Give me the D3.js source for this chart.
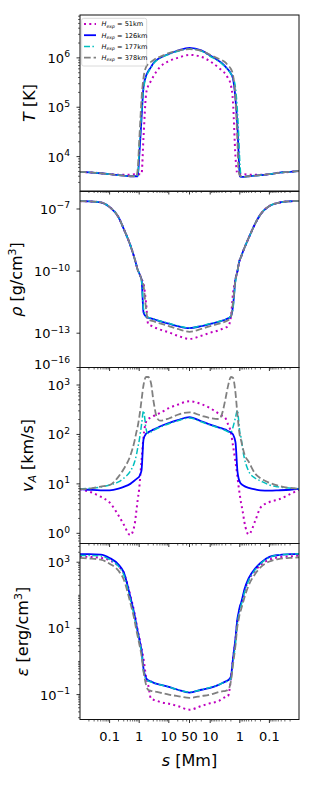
<!DOCTYPE html>
<html><head><meta charset="utf-8">
<script src="https://cdn.jsdelivr.net/npm/d3@7"></script>
<style>body{margin:0;background:#fff}text{font-family:"DejaVu Sans",sans-serif}</style>
</head><body>
<svg id="c" width="333" height="800"></svg>
<script>
// distance s [Mm] from each footpoint: left half toward the apex, right half back to the other footpoint
const sLeft  = [0.01,0.02,0.05,0.1,0.2,0.3,0.5,0.7,0.8,0.9,1.0,1.1,1.2,1.4,1.7,2,2.5,3,4,5,10,20,50];
const sRight = [20,10,5,4,3,2.5,2,1.7,1.4,1.2,1.1,1.0,0.9,0.8,0.7,0.5,0.3,0.2,0.1,0.05,0.02,0.01];
const seriesNames = ["51km","126km","177km","378km"];

// Temperature [K]
const T_51  = [4900,4800,4600,4400,4300,4300,4300,4400,4400,4400,4400,4400,4500,2.5e4,1.8e5,2.7e5,3.4e5,4.2e5,5.5e5,6.5e5,8.6e5,1.0e6,1.15e6,
               1.05e6,8.5e5,6.2e5,5.5e5,4.7e5,3.9e5,2.8e5,1.3e5,1e4,4500,4500,4500,4500,4400,4400,4300,4300,4300,4400,4700,4900,5100];
const T_126 = [4900,4800,4600,4400,4200,4100,4000,4000,4000,4000,1e4,2.5e4,6e4,2.6e5,4.3e5,5.3e5,6.5e5,7.8e5,9.2e5,1.0e6,1.2e6,1.4e6,1.6e6,
               1.42e6,1.12e6,8.6e5,7.8e5,6.6e5,5.8e5,4.8e5,3.8e5,1.5e5,4e4,1.2e4,4000,3900,3900,3900,4000,4100,4200,4400,4700,4900,5100];
const T_177 = [4900,4800,4600,4400,4200,4100,4000,4000,4000,4100,1.5e4,3.5e4,8e4,2.3e5,4.1e5,5.1e5,6.3e5,7.6e5,9e5,9.8e5,1.18e6,1.36e6,1.52e6,
               1.38e6,1.08e6,8.4e5,7.6e5,6.5e5,5.7e5,4.8e5,4e5,2.5e5,8e4,3e4,8000,3900,3900,3900,4000,4100,4200,4400,4700,4900,5100];
const T_378 = [4900,4800,4600,4400,4200,4100,4000,4000,4000,6000,2e4,6e4,1.5e5,4e5,6.5e5,7.5e5,8.3e5,9e5,1e6,1.05e6,1.25e6,1.4e6,1.5e6,
               1.4e6,1.15e6,9.5e5,9e5,8e5,7e5,6e5,4.5e5,1.5e5,2e4,5000,4200,4000,3900,3900,4000,4100,4200,4400,4700,4900,5100];

// Density [g/cm^3]
const rho_51  = [2.4e-7,2.35e-7,2.1e-7,1.25e-7,4e-8,1.1e-8,1.8e-9,4e-10,2e-10,1.1e-10,8e-11,5.6e-11,4e-11,2.5e-11,3e-12,2.8e-13,2.3e-13,2e-13,1.7e-13,1.5e-13,1.1e-13,7.5e-14,5.3e-14,
                 7.5e-14,1.05e-13,1.4e-13,1.6e-13,1.9e-13,2.1e-13,6e-13,8e-12,4e-11,1e-10,2e-10,3.5e-10,5e-10,8e-10,1.3e-9,4e-9,2e-8,5.5e-8,1.4e-7,2e-7,2.35e-7,2.45e-7];
const rho_126 = [2.4e-7,2.35e-7,2.1e-7,1.25e-7,4e-8,1.1e-8,1.8e-9,4e-10,2e-10,1.1e-10,8e-11,5.6e-11,4e-11,1e-12,6.3e-13,5.6e-13,5.2e-13,4.8e-13,4.2e-13,3.8e-13,2.9e-13,2.2e-13,1.75e-13,
                 2.2e-13,2.8e-13,3.6e-13,4e-13,4.6e-13,5.2e-13,6.5e-13,2e-12,4e-11,1e-10,2e-10,3.5e-10,5e-10,8e-10,1.3e-9,4e-9,2e-8,5.5e-8,1.4e-7,2e-7,2.35e-7,2.45e-7];
const rho_177 = [2.4e-7,2.35e-7,2.1e-7,1.25e-7,4e-8,1.1e-8,1.8e-9,4e-10,2e-10,1.1e-10,8e-11,5.6e-11,3.5e-11,1.5e-12,6.5e-13,5.8e-13,5.3e-13,4.9e-13,4.3e-13,3.9e-13,3e-13,2.3e-13,1.8e-13,
                 2.3e-13,2.9e-13,3.7e-13,4.1e-13,4.7e-13,5.3e-13,6.8e-13,1.5e-12,3e-11,1e-10,2e-10,3.5e-10,5e-10,8e-10,1.3e-9,4e-9,2e-8,5.5e-8,1.4e-7,2e-7,2.35e-7,2.45e-7];
const rho_378 = [2.4e-7,2.35e-7,2.1e-7,1.25e-7,4e-8,1.1e-8,1.8e-9,4e-10,2e-10,1.1e-10,8e-11,5.6e-11,4e-11,2e-11,1.5e-12,4.4e-13,4.1e-13,3.8e-13,3.3e-13,3e-13,2.2e-13,1.6e-13,1.17e-13,
                 1.6e-13,2.2e-13,2.9e-13,3.2e-13,3.7e-13,4.2e-13,6e-13,3e-12,4e-11,1e-10,2e-10,3.5e-10,5e-10,8e-10,1.3e-9,4e-9,2e-8,5.5e-8,1.4e-7,2e-7,2.35e-7,2.45e-7];

// Alfven speed [km/s]
const vA_51  = [7.8,7,5.5,4.2,2.3,1.5,0.92,1.5,2.8,5,8,16,30,90,180,205,220,235,255,270,340,400,470,
                410,340,260,240,210,160,110,60,28,14,9,6,4,2.8,1.7,0.95,1.8,3.3,4.3,4.8,6.2,7.6];
const vA_126 = [7.8,7.6,7.4,7.4,8,8.7,10,11.7,12.5,13.2,14,16,19,80,103,110,118,125,135,145,170,195,225,
                185,158,138,132,125,117,110,100,70,18,13,11,10,9.5,9,8.3,7.7,7.4,7.3,7.4,7.6,7.9];
const vA_177 = [7.9,8.1,8.6,9.5,11,13,18,28,38,55,75,110,160,300,130,105,112,120,132,140,165,190,215,
                180,155,135,128,120,113,110,140,220,310,200,110,85,50,33,18,13,11.5,9.5,8.7,8.2,8];
const vA_378 = [7.8,8,8.8,9.5,14,20,37,75,110,150,220,330,500,1000,1450,1450,1100,500,216,190,210,250,280,
                240,215,205,260,550,950,1450,1400,700,250,150,95,75,55,40,28,16,13,10.5,9.2,8.3,8];

// Energy density [erg/cm^3]
const eps_51  = [1500,1450,1350,1150,750,480,100,28,15,8.5,5.5,3.5,2.5,1.2,0.35,0.2,0.075,0.07,0.065,0.06,0.053,0.045,0.035,
                 0.045,0.055,0.065,0.075,0.085,0.09,0.3,1.2,4.5,17,27,40,55,80,130,290,560,820,1200,1400,1500,1600];
const eps_126 = [1750,1750,1700,1350,850,500,90,25,13,7.5,5,3.2,2.2,0.6,0.32,0.27,0.25,0.23,0.21,0.2,0.17,0.14,0.115,
                 0.14,0.16,0.2,0.22,0.25,0.27,0.35,1.2,5,20,30,45,60,90,150,330,650,950,1450,1650,1750,1800];
const eps_177 = [1600,1600,1550,1200,750,420,75,21,11,6.5,4.2,2.8,1.9,0.5,0.3,0.26,0.24,0.23,0.21,0.2,0.17,0.14,0.12,
                 0.14,0.165,0.2,0.22,0.24,0.26,0.3,0.9,3.5,15,24,36,50,75,120,280,600,900,1400,1650,1750,1800];
const eps_378 = [1350,1300,1200,900,550,300,60,17,9,5.5,3.5,2.3,1.5,0.5,0.2,0.14,0.13,0.125,0.12,0.115,0.1,0.09,0.08,
                 0.09,0.1,0.12,0.125,0.13,0.14,0.25,0.8,3,12,18,28,38,55,85,200,450,700,1050,1250,1350,1400];

// x tick labels
const xTicksLeft  = [0.1,1,10,50];
const xTicksRight = [10,1,0.1];

const styles = [
  {color:"#bf00bf", width:2,   dash:"2,3.3"},
  {color:"#0000ff", width:1.8, dash:null},
  {color:"#00bfbf", width:1.5, dash:"6,2.4,1.5,2.4"},
  {color:"#808080", width:1.8, dash:"6.7,2.9"}
];

const svg = d3.select("#c");
const X0 = 80, X1 = 299, XC = 189.5, H = 176;
const xL = d3.scaleLog().domain([0.01,50]).range([X0,XC]);
const xR = d3.scaleLog().domain([0.01,50]).range([X1,XC]);
const xs = sLeft.map(s => xL(s)).concat(sRight.map(s => xR(s)));

const panels = [
  {top:15,    dom:[10**3.303,10**6.869], major:[1e4,1e5,1e6], minor:"sub", data:[T_51,T_126,T_177,T_378],
   label:[["T","i"],[" [K]",""]], lx:35},
  {top:191.5, dom:[10**-14.657,10**-6.155], major:[1e-7,1e-10,1e-13], minor:"none", data:[rho_51,rho_126,rho_177,rho_378],
   label:[["ρ","i"],[" [g/cm",""],["3","sup"],["]",""]], lx:22, extra:"−16"},
  {top:367.5, dom:[10**-0.206,10**3.354], major:[1,10,100,1000], minor:"sub", data:[vA_51,vA_126,vA_177,vA_378],
   label:[["v","i"],["A","isub"],[" [km/s]",""]], lx:33},
  {top:543.5, dom:[10**-1.753,10**3.566], major:[0.1,10,1000], minor:"all", data:[eps_51,eps_126,eps_177,eps_378],
   label:[["ε","i"],[" [erg/cm",""],["3","sup"],["]",""]], lx:27.5}
];

const defs = svg.append("defs");

function expText(g, x, y, expStr) {
  const t = g.append("text").attr("x", x).attr("y", y).attr("text-anchor","end")
    .attr("font-size", 13).attr("fill","#000");
  t.append("tspan").text("10");
  t.append("tspan").attr("dy", -5.5).attr("font-size", 9.2).text(expStr);
}

panels.forEach((p, pi) => {
  const y = d3.scaleLog().domain(p.dom).range([p.top + H, p.top]);
  const g = svg.append("g");
  const cid = "clip" + pi;
  defs.append("clipPath").attr("id", cid).append("rect")
    .attr("x", X0).attr("y", p.top).attr("width", X1 - X0).attr("height", H);

  // curves
  const line = d3.line().x((d,i) => xs[i]).y(d => y(d)).curve(d3.curveMonotoneX);
  const cg = g.append("g").attr("clip-path", `url(#${cid})`);
  p.data.forEach((arr, si) => {
    const st = styles[si];
    cg.append("path").attr("d", line(arr)).attr("fill","none")
      .attr("stroke", st.color).attr("stroke-width", st.width)
      .attr("stroke-dasharray", st.dash);
  });

  // y ticks
  const lo = Math.floor(Math.log10(p.dom[0])), hi = Math.ceil(Math.log10(p.dom[1]));
  const minors = [];
  if (p.minor !== "none") {
    for (let n = lo; n <= hi; n++) {
      for (let k = (p.minor === "all" ? 1 : 2); k <= 9; k++) {
        const v = k * 10 ** n;
        if (v >= p.dom[0] && v <= p.dom[1] && !p.major.some(m => Math.abs(m - v) / m < 1e-6)) minors.push(v);
      }
    }
  }
  minors.forEach(v => g.append("line").attr("x1", X0 - 2).attr("x2", X0)
    .attr("y1", y(v)).attr("y2", y(v)).attr("stroke","#000").attr("stroke-width",0.6));
  p.major.forEach(v => {
    g.append("line").attr("x1", X0 - 3.5).attr("x2", X0).attr("y1", y(v)).attr("y2", y(v))
      .attr("stroke","#000").attr("stroke-width",0.8);
    const e = Math.round(Math.log10(v));
    expText(g, 70, y(v) + 5, (e < 0 ? "−" + (-e) : String(e)));
  });
  if (p.extra) {
    const yb = y(p.dom[0]);
    g.append("line").attr("x1", X0 - 3.5).attr("x2", X0).attr("y1", yb).attr("y2", yb)
      .attr("stroke","#000").attr("stroke-width",0.8);
    expText(g, 70, yb + 1, p.extra);
  }

  // x ticks (bottom of each panel, outward)
  const yb = p.top + H;
  const xMinor = [];
  [0.01, 0.1, 1, 10].forEach(d => { for (let k = 2; k <= 9; k++) { const v = k * d; if (v < 50) xMinor.push(v); } });
  xMinor.forEach(v => {
    [xL(v), xR(v)].forEach(xx => g.append("line").attr("x1", xx).attr("x2", xx)
      .attr("y1", yb).attr("y2", yb + 2).attr("stroke","#000").attr("stroke-width",0.6));
  });
  xTicksLeft.map(v => xL(v)).concat(xTicksRight.map(v => xR(v))).forEach(xx =>
    g.append("line").attr("x1", xx).attr("x2", xx).attr("y1", yb).attr("y2", yb + 3.5)
      .attr("stroke","#000").attr("stroke-width",0.8));

  // frame
  g.append("rect").attr("x", X0).attr("y", p.top).attr("width", X1 - X0).attr("height", H)
    .attr("fill","none").attr("stroke","#111").attr("stroke-width",1);

  // y label
  const cy = p.top + H / 2;
  const lt = svg.append("text").attr("transform", `translate(${p.lx},${cy}) rotate(-90)`)
    .attr("text-anchor","middle").attr("font-size", 16).attr("fill","#000");
  p.label.forEach(([s, k]) => {
    const ts = lt.append("tspan").text(s);
    if (k === "i") ts.attr("font-style","italic");
    if (k === "isub") ts.attr("font-style","italic").attr("font-size",11).attr("dy",3);
    if (k === "sup") ts.attr("font-size",11).attr("dy",-6);
    if (k === "" && s.startsWith("]")) ts.attr("dy", 6);
    if (k === "" && s.startsWith(" [km")) ts.attr("dy", -3);
  });
});

// bottom x tick labels
const xl = svg.append("g");
xTicksLeft.forEach(v => xl.append("text").attr("x", xL(v)).attr("y", 740.5).attr("text-anchor","middle")
  .attr("font-size",13).text(String(v)));
xTicksRight.forEach(v => xl.append("text").attr("x", xR(v)).attr("y", 740.5).attr("text-anchor","middle")
  .attr("font-size",13).text(String(v)));
const xt = svg.append("text").attr("x", XC).attr("y", 766).attr("text-anchor","middle").attr("font-size",16);
xt.append("tspan").attr("font-style","italic").text("s");
xt.append("tspan").text(" [Mm]");

// legend
const lg = svg.append("g");
lg.append("rect").attr("x",81.7).attr("y",18.3).attr("width",65).attr("height",47.7).attr("rx",2)
  .attr("fill","#fff").attr("fill-opacity",0.85).attr("stroke","#d0d0d0").attr("stroke-width",0.8);
seriesNames.forEach((n, i) => {
  const yy = 24 + i * 11.2;
  const st = styles[i];
  lg.append("line").attr("x1",84).attr("x2",96).attr("y1",yy).attr("y2",yy)
    .attr("stroke",st.color).attr("stroke-width",st.width).attr("stroke-dasharray",st.dash);
  const t = lg.append("text").attr("x",101.5).attr("y",yy + 2.3).attr("font-size",6.6);
  t.append("tspan").attr("font-style","italic").text("H");
  t.append("tspan").attr("font-style","italic").attr("font-size",4.6).attr("dy",1.3).text("exp");
  t.append("tspan").attr("dy",-1.3).text(" = " + n);
});
</script>
</body></html>
